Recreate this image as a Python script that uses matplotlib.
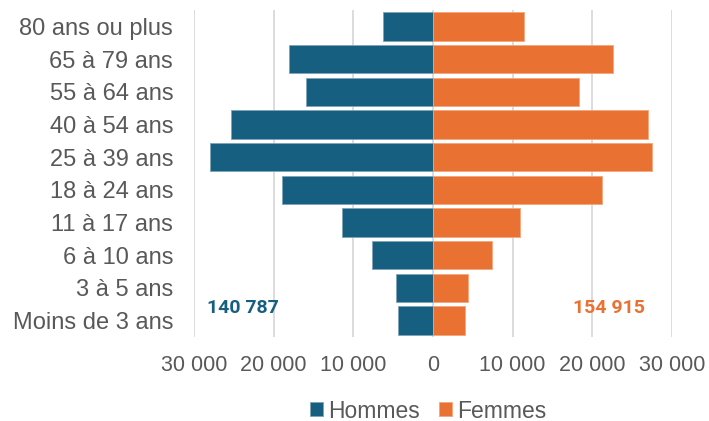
import numpy as np
import matplotlib
matplotlib.use("Agg")
import matplotlib.pyplot as plt
from matplotlib.ticker import FuncFormatter

plt.rcParams['font.family'] = ['Liberation Sans', 'DejaVu Sans']

# Age groups, top to bottom
ages = ["80 ans ou plus", "65 à 79 ans", "55 à 64 ans", "40 à 54 ans", "25 à 39 ans",
        "18 à 24 ans", "11 à 17 ans", "6 à 10 ans", "3 à 5 ans", "Moins de 3 ans"]
hommes = [6290, 18070, 15930, 25320, 28050, 18910, 11450, 7670, 4650, 4440]
femmes = [11450, 22640, 18360, 26960, 27550, 21220, 10900, 7420, 4440, 4070]
total_hommes = "140 787"
total_femmes = "154 915"

blue = "#175f81"
orange = "#e97232"

fig = plt.figure(figsize=(7.09, 4.21), dpi=100)
ax = fig.add_axes([194 / 709, 1 - 337 / 421, (672 - 194) / 709, 327 / 421])

y = np.arange(len(ages))
ax.barh(y, -np.array(hommes), height=0.87, color=blue, edgecolor="#7fa3b8",
        linewidth=0.6, label="Hommes", zorder=3)
ax.barh(y, femmes, height=0.87, color=orange, edgecolor="#f2a57c",
        linewidth=0.6, label="Femmes", zorder=3)

ax.set_xlim(-30000, 30000)
ax.set_ylim(len(ages) - 0.5, -0.5)
ax.set_yticks(y)
ax.set_yticklabels(ages)
ax.set_xticks(np.arange(-30000, 30001, 10000))
ax.xaxis.set_major_formatter(FuncFormatter(lambda v, p: f"{abs(int(v)):,}".replace(",", " ")))

ax.tick_params(axis="both", length=0, labelcolor="#595959")
ax.tick_params(axis="y", pad=15, labelsize=17)
ax.tick_params(axis="x", pad=13, labelsize=15.5)
for s in ax.spines.values():
    s.set_visible(False)
ax.grid(axis="x", color="#d9d9d9", linewidth=1.3, zorder=0)
ax.set_axisbelow(True)

narrow = ["Liberation Sans Narrow", "Roboto"]
ax.text(-23900, 8.6, total_hommes, color=blue, fontsize=14, fontweight="bold",
        family=narrow, ha="center", va="center")
ax.text(22100, 8.6, total_femmes, color=orange, fontsize=14, fontweight="bold",
        family=narrow, ha="center", va="center")

fig.legend(loc="center", bbox_to_anchor=(428 / 709, 1 - 411 / 421), ncol=2, frameon=False,
           fontsize=16.5, labelcolor="#595959", handlelength=0.57, handleheight=0.57,
           handletextpad=0.22, columnspacing=0.86)

fig.savefig("out.png", dpi=100)
